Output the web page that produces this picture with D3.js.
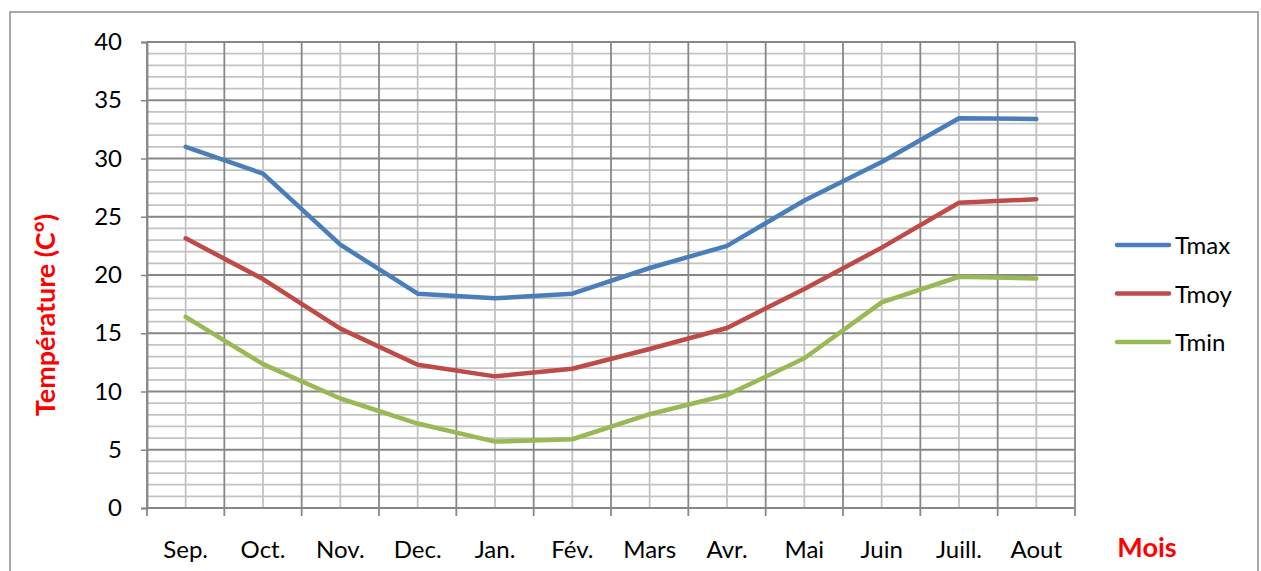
<!DOCTYPE html>
<html>
<head>
<meta charset="utf-8">
<script src="https://cdn.jsdelivr.net/npm/d3@7"></script>
<style>
  html, body { margin: 0; padding: 0; background: #fff; }
  svg { display: block; font-family: "Lato", "Liberation Sans", sans-serif; }
</style>
</head>
<body>
<svg id="chart" width="1261" height="571"></svg>
<script>
// Monthly temperatures (°C), September to August
const months = ["Sep.", "Oct.", "Nov.", "Dec.", "Jan.", "Fév.", "Mars", "Avr.", "Mai", "Juin", "Juill.", "Aout"];
const tmax = [31.0, 28.7, 22.6, 18.4, 18.0, 18.4, 20.6, 22.5, 26.4, 29.7, 33.45, 33.4];
const tmoy = [23.15, 19.65, 15.4, 12.3, 11.3, 11.95, 13.65, 15.45, 18.8, 22.35, 26.2, 26.5];
const tmin = [16.4, 12.35, 9.4, 7.25, 5.7, 5.9, 8.05, 9.7, 12.85, 17.65, 19.85, 19.7];
const yTicks = [0, 5, 10, 15, 20, 25, 30, 35, 40];
const seriesNames = ["Tmax", "Tmoy", "Tmin"];
const seriesColors = ["#4A7EBB", "#BE4B48", "#98B954"];
const seriesValues = [tmax, tmoy, tmin];

const svg = d3.select("#chart");

// outer frame
svg.append("rect")
  .attr("x", 10).attr("y", 12)
  .attr("width", 1248).attr("height", 570)
  .attr("fill", "#fff").attr("stroke", "#8c8c8c").attr("stroke-width", 1.5);

const plot = { left: 147, right: 1075, top: 42, bottom: 508 };

const x = d3.scaleBand().domain(months).range([plot.left, plot.right]).paddingInner(0).paddingOuter(0);
const y = d3.scaleLinear().domain([0, 40]).range([plot.bottom, plot.top]);

const g = svg.append("g");

// minor horizontal grid (every 1 °C)
g.append("g").selectAll("line")
  .data(d3.range(0, 41).filter(v => v % 5 !== 0))
  .join("line")
  .attr("x1", plot.left).attr("x2", plot.right)
  .attr("y1", d => y(d)).attr("y2", d => y(d))
  .attr("stroke", "#c3c3c3").attr("stroke-width", 1.8);

// minor vertical grid at category centres
g.append("g").selectAll("line")
  .data(months)
  .join("line")
  .attr("x1", d => x(d) + x.bandwidth() / 2).attr("x2", d => x(d) + x.bandwidth() / 2)
  .attr("y1", plot.top).attr("y2", plot.bottom)
  .attr("stroke", "#c3c3c3").attr("stroke-width", 1.8);

// major horizontal grid
g.append("g").selectAll("line")
  .data(yTicks)
  .join("line")
  .attr("x1", plot.left).attr("x2", plot.right)
  .attr("y1", d => y(d)).attr("y2", d => y(d))
  .attr("stroke", "#878787").attr("stroke-width", 1.8);

// major vertical grid at category boundaries
const bounds = months.map(m => x(m)).concat([plot.right]);
g.append("g").selectAll("line")
  .data(bounds)
  .join("line")
  .attr("x1", d => d).attr("x2", d => d)
  .attr("y1", plot.top).attr("y2", plot.bottom)
  .attr("stroke", "#878787").attr("stroke-width", 1.8);

// y axis
const yAxis = d3.axisLeft(y).tickValues(yTicks).tickSize(6).tickPadding(19);
const ya = svg.append("g").attr("transform", `translate(${plot.left},0)`).call(yAxis);
ya.select(".domain").attr("stroke", "#878787").attr("stroke-width", 1.8);
ya.selectAll(".tick line").attr("stroke", "#878787").attr("stroke-width", 1.5);
ya.selectAll(".tick text").attr("font-size", 24).attr("fill", "#000")
  .attr("font-family", "Lato, 'Liberation Sans', sans-serif");

// x axis: ticks at category boundaries, labels centred in bands
const xa = svg.append("g").attr("transform", `translate(0,${plot.bottom})`);
xa.append("line").attr("x1", plot.left).attr("x2", plot.right)
  .attr("stroke", "#878787").attr("stroke-width", 1.8);
xa.selectAll("line.tk").data(bounds).join("line").attr("class", "tk")
  .attr("x1", d => d).attr("x2", d => d).attr("y1", 0).attr("y2", 8)
  .attr("stroke", "#878787").attr("stroke-width", 1.8);
xa.selectAll("text").data(months).join("text")
  .attr("x", d => x(d) + x.bandwidth() / 2).attr("y", 50)
  .attr("text-anchor", "middle").attr("font-size", 24).attr("fill", "#000")
  .text(d => d);

// series lines
const line = d3.line()
  .x((d, i) => x(months[i]) + x.bandwidth() / 2)
  .y(d => y(d));

svg.append("g").selectAll("path")
  .data(seriesValues)
  .join("path")
  .attr("d", d => line(d))
  .attr("fill", "none")
  .attr("stroke", (d, i) => seriesColors[i])
  .attr("stroke-width", 4.5)
  .attr("stroke-linejoin", "round")
  .attr("stroke-linecap", "round");

// legend
const legend = svg.append("g");
const ly = d3.scalePoint().domain(seriesNames).range([245, 342]);
seriesNames.forEach((name, i) => {
  legend.append("line")
    .attr("x1", 1117).attr("x2", 1169)
    .attr("y1", ly(name)).attr("y2", ly(name))
    .attr("stroke", seriesColors[i]).attr("stroke-width", 4.5)
    .attr("stroke-linecap", "round");
  legend.append("text")
    .attr("x", 1175).attr("y", ly(name) + 9)
    .attr("font-size", 24).attr("fill", "#000")
    .text(name);
});

// axis titles
svg.append("text")
  .attr("x", 1147).attr("y", 557)
  .attr("text-anchor", "middle").attr("font-size", 27).attr("font-weight", "bold")
  .attr("fill", "#ff0000").text("Mois");

svg.append("text")
  .attr("transform", "translate(55,315) rotate(-90)")
  .attr("text-anchor", "middle").attr("font-size", 27).attr("font-weight", "bold")
  .attr("fill", "#ff0000").text("Température (C°)");
</script>
</body>
</html>
